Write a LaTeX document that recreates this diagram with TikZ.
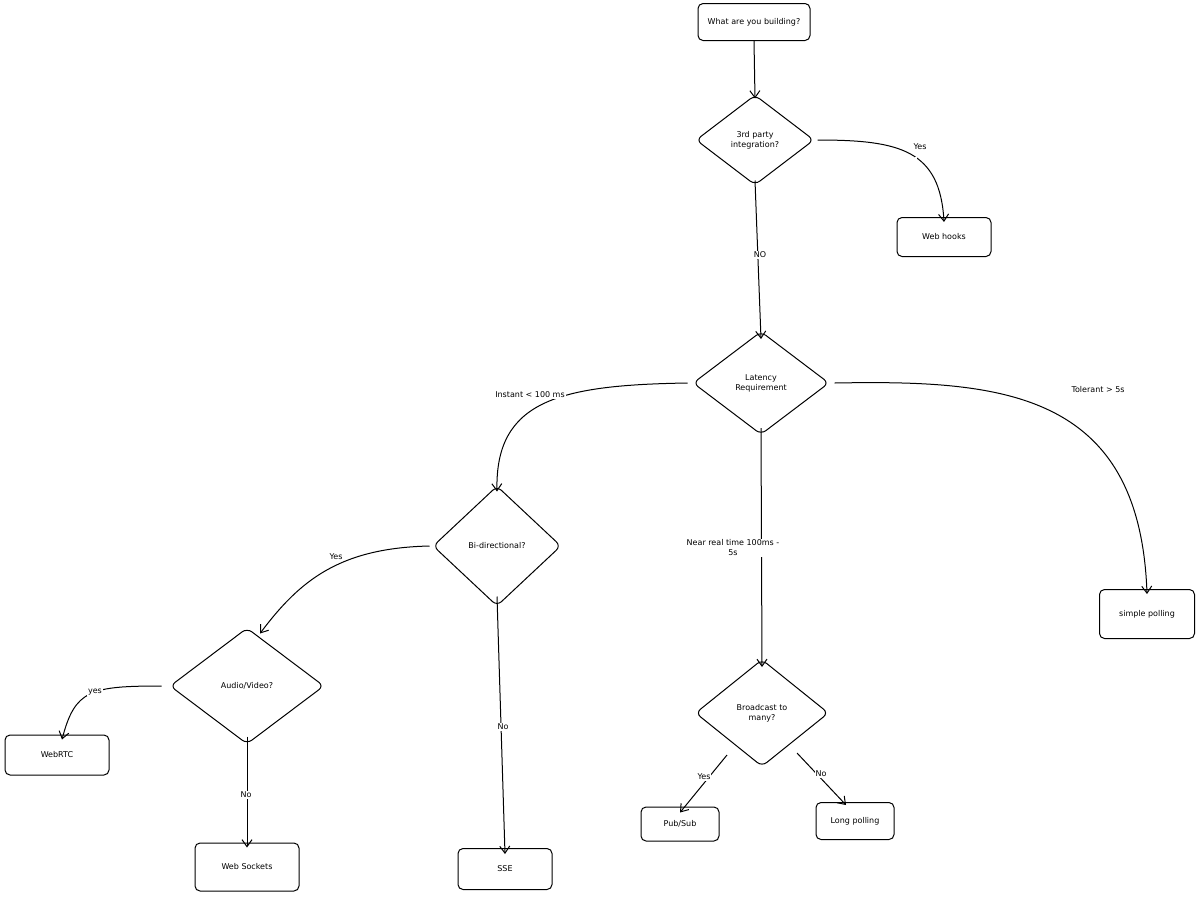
\documentclass[tikz,border=0pt]{standalone}
\usepackage{fontspec}
\setmainfont{DejaVu Sans}
\usetikzlibrary{shapes.geometric,arrows.meta}
\begin{document}
\begin{tikzpicture}[x=1pt,y=-1pt,
  box/.style={draw,line width=1pt,rounded corners=5pt,font=\fontsize{8}{10}\selectfont,align=center,inner sep=0pt},
  dia/.style={draw,line width=1pt,diamond,rounded corners=6pt,font=\fontsize{8}{10}\selectfont,align=center,inner sep=0pt},
  arr/.style={line width=1pt,-{Straight Barb[length=7pt,width=10pt]}},
  lab/.style={fill=white,font=\fontsize{8}{10}\selectfont,align=center,inner sep=1pt}]
\useasboundingbox[fill=white] (0,0) rectangle (1200,898);
\node[box,minimum width=112,minimum height=37] (what) at (754,22) {What are you building?};
\node[dia,minimum width=118,minimum height=90] (q1) at (755,140) {3rd party\\integration?};
\node[box,minimum width=94,minimum height=39] (hooks) at (944,237) {Web hooks};
\node[dia,minimum width=136,minimum height=103] (lat) at (761,383) {Latency\\Requirement};
\node[dia,minimum width=128,minimum height=120] (bi) at (497,546) {Bi-directional?};
\node[dia,minimum width=154,minimum height=116] (av) at (247,686) {Audio/Video?};
\node[box,minimum width=104,minimum height=40] (rtc) at (57,755) {WebRTC};
\node[box,minimum width=104,minimum height=48] (ws) at (247,867) {Web Sockets};
\node[box,minimum width=94,minimum height=41] (sse) at (505,869) {SSE};
\node[dia,minimum width=133,minimum height=107] (bc) at (762,713) {Broadcast to\\many?};
\node[box,minimum width=78,minimum height=34] (ps) at (680,824) {Pub/Sub};
\node[box,minimum width=78,minimum height=37] (lp) at (855,821) {Long polling};
\node[box,minimum width=95,minimum height=49] (sp) at (1147,614) {simple polling};

\draw[arr] (what.south) -- ([yshift=-4]q1.north);
\draw[arr] ([xshift=3]q1.east) .. controls (900,140) and (940,150) .. ([yshift=-5]hooks.north) node[lab,pos=0.55] at (920,147) {};
\node[lab] at (920,147) {Yes};
\draw[arr] ([yshift=5]q1.south) -- ([yshift=-8]lat.north);
\node[lab] at (760,255) {NO};
\draw[arr] ([xshift=-5]lat.west) .. controls (560,385) and (495,400) .. ([yshift=-6]bi.north);
\node[lab] at (530,395) {Instant < 100 ms};
\draw[arr] ([xshift=5]lat.east) .. controls (1000,380) and (1140,390) .. ([yshift=-5]sp.north);
\node[lab] at (1098,390) {Tolerant > 5s};
\draw[arr] ([yshift=7]lat.south) -- ([yshift=-8]bc.north);
\node[lab] at (733,548) {Near real time 100ms -\\5s};
\draw[arr] ([xshift=-3]bi.west) .. controls (340,548) and (300,580) .. ([xshift=13,yshift=-6]av.north);
\node[lab] at (336,557) {Yes};
\draw[arr] ([yshift=10]bi.south) -- ([yshift=-6]sse.north);
\node[lab] at (503,727) {No};
\draw[arr] ([xshift=-8]av.west) .. controls (90,686) and (75,690) .. ([xshift=5,yshift=-5]rtc.north);
\node[lab] at (95,692) {yes};
\draw[arr] ([yshift=8]av.south) -- ([yshift=-5]ws.north);
\node[lab] at (246,795) {No};
\draw[arr] (727,755) -- ([yshift=-6]ps.north);
\node[lab] at (704,777) {Yes};
\draw[arr] (797,753) -- ([xshift=-9,yshift=-3]lp.north);
\node[lab] at (821,774) {No};
\end{tikzpicture}
\end{document}
